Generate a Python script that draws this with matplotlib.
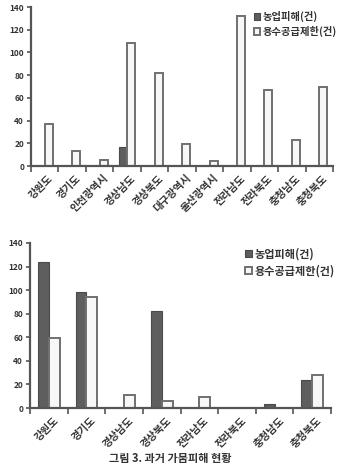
import numpy as np
import matplotlib.pyplot as plt

plt.rcParams['font.family'] = ['Noto Sans CJK KR', 'DejaVu Sans']

# 위 그래프 (시도별)
top_regions = ['강원도', '경기도', '인천광역시', '경상남도', '경상북도', '대구광역시',
               '울산광역시', '전라남도', '전라북도', '충청남도', '충청북도']
top_agri = [0, 0, 0, 17, 0, 0, 0, 0, 0, 0, 0]
top_water = [37, 13, 5, 108, 82, 19, 4, 132, 67, 23, 70]

# 아래 그래프
bot_regions = ['강원도', '경기도', '경상남도', '경상북도', '전라남도', '전라북도', '충청남도', '충청북도']
bot_agri = [124, 98, 0, 82, 0, 0, 3, 24]
bot_water = [59, 94, 11, 6, 9, 0, 0, 28]

series_names = ['농업피해(건)', '용수공급제한(건)']
caption = '그림 3. 과거 가뭄피해 현황'

AGRI_COLOR = '#5e5e5e'
WATER_COLOR = '#f7f7f7'
EDGE = '#707070'

fig = plt.figure(figsize=(3.41, 4.69), dpi=100)


def draw(ax, regions, agri, water, legend_pos, legend_size):
    x = np.arange(len(regions))
    w = 0.29
    ax.bar(x - w / 2, agri, w, color=AGRI_COLOR, edgecolor='#4a4a4a', linewidth=0.8,
           label=series_names[0])
    ax.bar(x + w / 2, water, w, color=WATER_COLOR, edgecolor=EDGE, linewidth=1.4,
           label=series_names[1])
    ax.set_xlim(-0.5, len(regions) - 0.5)
    ax.set_ylim(0, 140)
    ax.set_yticks(range(0, 141, 20))
    ax.set_xticks(np.arange(len(regions) + 1) - 0.5)
    ax.set_xticklabels([])
    ax.set_xticks(x + 0.12, minor=True)
    ax.set_xticklabels(regions, minor=True, rotation=45, ha='right', rotation_mode='anchor',
                       fontsize=7.5, fontweight='bold', color='#333333')
    ax.tick_params(axis='x', which='minor', length=0, pad=5)
    ax.tick_params(axis='x', which='major', length=4, width=1.2, color='#555555')
    ax.tick_params(axis='y', length=3, width=1.2, color='#555555', labelsize=6, pad=2)
    for lab in ax.get_yticklabels():
        lab.set_fontweight('bold')
        lab.set_color('#333333')
    for s in ['top', 'right']:
        ax.spines[s].set_visible(False)
    for s in ['left', 'bottom']:
        ax.spines[s].set_linewidth(1.6)
        ax.spines[s].set_color('#555555')
    leg = ax.legend(loc='upper left', bbox_to_anchor=legend_pos, frameon=False,
                    handlelength=0.6, handleheight=0.6, handletextpad=0.2,
                    labelspacing=0.4, borderaxespad=0,
                    prop={'size': legend_size, 'weight': 'bold'})
    for t in leg.get_texts():
        t.set_color('#333333')


ax1 = fig.add_axes([0.091, 0.646, 0.886, 0.339])
draw(ax1, top_regions, top_agri, top_water, (0.725, 1.0), 7.4)

ax2 = fig.add_axes([0.088, 0.130, 0.883, 0.352])
draw(ax2, bot_regions, bot_agri, bot_water, (0.70, 1.0), 8)

fig.text(0.5, 0.008, caption, ha='center', va='bottom', fontsize=8,
         fontweight='bold', color='#333333')

fig.savefig('out.png', dpi=100)
